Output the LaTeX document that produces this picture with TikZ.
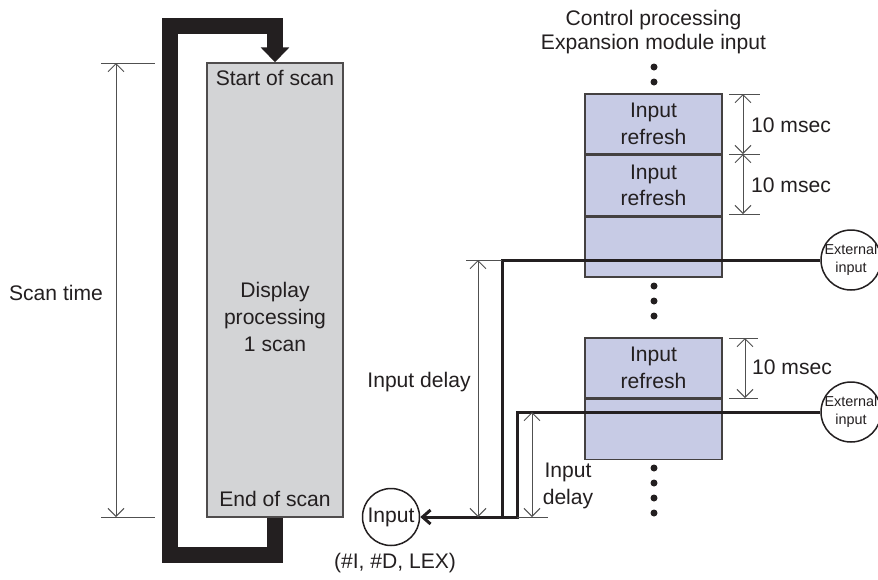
\documentclass[tikz,border=0pt]{standalone}
\usepackage{fontspec}
\setmainfont{Liberation Sans}
\usetikzlibrary{arrows.meta}

\definecolor{ink}{HTML}{231F20}
\definecolor{dimgray}{HTML}{505050}
\definecolor{scanfill}{HTML}{D3D4D6}
\definecolor{refreshfill}{HTML}{C7CBE5}

\begin{document}
\begin{tikzpicture}[x=0.2mm, y=-0.2mm, font=\fontsize{12}{15}\selectfont, text=ink,
    dim/.style={draw=dimgray, line width=0.2mm, {Straight Barb[length=1.6mm,width=3.2mm]}-{Straight Barb[length=1.6mm,width=3.2mm]}},
    ext/.style={draw=dimgray, line width=0.2mm},
    sig/.style={draw=ink, line width=0.6mm},
    cell/.style={draw=ink!85, line width=0.28mm, fill=refreshfill, minimum width=27.4mm, minimum height=12mm, inner sep=0pt, align=center},
    bubble/.style={draw=ink, line width=0.3mm, circle, fill=white, align=center}]
    \useasboundingbox (0,0) rectangle (878,579);

    % scan loop
    \node[draw=ink!80, line width=0.3mm, fill=scanfill, minimum width=27.2mm, minimum height=90.8mm] (disp) at (275,290) {};
    \draw[ink, line width=3.2mm, -{Triangle[length=3mm,width=5.6mm]}] (disp.south) -- ++(0,37) -| (170,26) -| (disp.north);
    \node (startscan) at (275,78) {Start of scan};
    \node (endscan) at (275,499) {End of scan};
    \node[align=center, font=\fontsize{12}{15.5}\selectfont] (dispproc) at (275,317) {Display\\processing\\1 scan};

    \draw[ext] (101,63) -- (155,63);
    \draw[ext] (101,517) -- (155,517);
    \draw[dim] (116,63) -- (116,517);
    \node (scantime) at (56,293) {Scan time};

    % expansion module input
    \node (ctrl) at (653.5,20) {Control processing};
    \node (expmod) at (653.5,44) {Expansion module input};

    \node[cell] (rf1) at (653.5,124) {Input\\refresh};
    \node[cell, anchor=north] (rf2) at (rf1.south) {Input\\refresh};
    \node[cell, anchor=north] (idle1) at (rf2.south) {};
    \node[cell] (rf3) at (653.5,368) {Input\\refresh};
    \node[cell, anchor=north] (idle2) at (rf3.south) {};

    \foreach \y in {67,82,286,301,316,468,483,498,513}
        \fill[ink] (654,\y) circle (0.7mm);

    \foreach \y in {94,154,214}
        \draw[ext] (729,\y) -- (760,\y);
    \draw[dim] (743,94) -- (743,154);
    \draw[dim] (743,154) -- (743,214);
    \node at (791,125) {10 msec};
    \node at (791,185) {10 msec};
    \foreach \y in {338,398}
        \draw[ext] (729,\y) -- (758,\y);
    \draw[dim] (745,338) -- (745,398);
    \node at (792,367) {10 msec};

    % inputs
    \node[bubble, minimum size=12mm, inner sep=-2mm, font=\fontsize{8.2}{10.5}\selectfont] (ext1) at (851,260) {External\\input};
    \node[bubble, minimum size=12mm, inner sep=-2mm, font=\fontsize{8.2}{10.5}\selectfont] (ext2) at (851,412) {External\\input};
    \node[bubble, minimum size=11.4mm, inner sep=0pt] (inp) at (391,517) {Input};
    \node (inplabel) at (395,563) {(\#I, \#D, LEX)};

    \coordinate (j1) at (502,517);
    \coordinate (j2) at (517,517);
    \draw[sig] (ext1.west) -| (j1);
    \draw[sig] (ext2.west) -| (j2) -- (j1);
    \draw[sig, -{Straight Barb[length=1.6mm,width=2.8mm]}] (j1) -- (inp.east);

    % input delays
    \draw[ext] (466,260) -- (502,260);
    \draw[dim] (478,260) -- (478,517);
    \node at (419,382) {Input delay};
    \draw[ext] (517,517) -- (548,517);
    \draw[dim] (532,412) -- (532,517);
    \node[align=center] at (568,486) {Input\\delay};
\end{tikzpicture}
\end{document}
